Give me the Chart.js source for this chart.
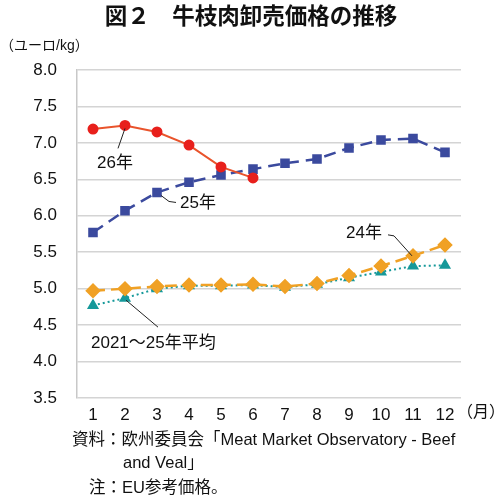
<!DOCTYPE html>
<html>
<head>
<meta charset="utf-8">
<script src="https://cdn.jsdelivr.net/npm/chart.js@4.4.1/dist/chart.umd.min.js"></script>
<style>
  html, body { margin: 0; padding: 0; background: #fff; }
  #wrap { width: 500px; height: 500px; position: relative; }
</style>
</head>
<body>
<div id="wrap"><canvas id="chart" width="500" height="500"></canvas></div>
<script>
// データ（ユーロ/kg）
const months = ['1', '2', '3', '4', '5', '6', '7', '8', '9', '10', '11', '12'];
const y26 = [7.19, 7.24, 7.15, 6.97, 6.67, 6.52, null, null, null, null, null, null];
const y25 = [5.77, 6.07, 6.32, 6.46, 6.56, 6.64, 6.72, 6.78, 6.93, 7.04, 7.06, 6.87];
const y24 = [4.97, 5.00, 5.03, 5.05, 5.05, 5.06, 5.03, 5.07, 5.18, 5.31, 5.45, 5.60];
const avg = [4.77, 4.87, 5.00, 5.04, 5.04, 5.05, 5.02, 5.06, 5.15, 5.23, 5.31, 5.32];
const yTicks = [3.5, 8.0];

const FONT = '"Liberation Sans", Arial, "Noto Sans CJK JP", sans-serif';
const NARROW = '"Liberation Sans Narrow", "Liberation Sans", "Noto Sans CJK JP", sans-serif';
const JP = '"Noto Sans CJK JP", "Liberation Sans", sans-serif';

// ラベルと引き出し線を描くプラグイン
const labelsPlugin = {
  id: 'labels',
  afterDraw(chart) {
    const ctx = chart.ctx;
    const x = chart.scales.x;
    const y = chart.scales.y;

    ctx.save();
    ctx.fillStyle = '#111';
    ctx.textBaseline = 'middle';

    // タイトル
    ctx.font = 'bold 22.5px ' + JP;
    ctx.textAlign = 'center';
    ctx.fillText('図２　牛枝肉卸売価格の推移', 251, 15);

    // 単位
    ctx.font = '14px ' + NARROW;
    ctx.textAlign = 'left';
    ctx.fillText('（ユーロ/kg）', 0, 46);

    // 月
    ctx.font = '16px ' + NARROW;
    ctx.fillText('（月）', 457, 413);

    // 注記
    ctx.font = '16.5px ' + FONT;
    ctx.fillText('資料：欧州委員会「Meat Market Observatory - Beef', 72, 440);
    ctx.fillText('and Veal」', 123, 463);
    ctx.fillText('注：EU参考価格。', 89, 488);

    // 系列ラベル
    const line = (x1, y1, x2, y2, x3, y3) => {
      ctx.beginPath();
      ctx.moveTo(x1, y1);
      ctx.lineTo(x2, y2);
      if (x3 !== undefined) ctx.lineTo(x3, y3);
      ctx.strokeStyle = '#222';
      ctx.lineWidth = 1;
      ctx.stroke();
    };

    ctx.font = '17px ' + NARROW;
    ctx.textAlign = 'left';

    let px = x.getPixelForValue(1), py = y.getPixelForValue(y26[1]);
    line(px, py + 3, px - 7, py + 23);
    ctx.fillText('26年', px - 28, py + 38);

    px = x.getPixelForValue(2); py = y.getPixelForValue(y25[2]);
    line(px + 4, py + 3, px + 12, py + 9, px + 19, py + 10);
    ctx.fillText('25年', px + 23, py + 11);

    px = x.getPixelForValue(10); py = y.getPixelForValue(y24[10]);
    line(px - 1, py, px - 19, py - 20, px - 25, py - 21);
    ctx.fillText('24年', px - 67, py - 23);

    px = x.getPixelForValue(1); py = y.getPixelForValue(avg[1]);
    line(px + 1, py + 2, px + 33, py + 29);
    ctx.fillText('2021～25年平均', px - 34, py + 45);

    ctx.restore();
  }
};

new Chart(document.getElementById('chart'), {
  type: 'line',
  data: {
    labels: months,
    datasets: [
      {
        label: '26年',
        data: y26,
        borderColor: '#e9542c',
        backgroundColor: '#e8201c',
        pointBackgroundColor: '#e8201c',
        pointBorderColor: '#e8201c',
        pointStyle: 'circle',
        pointRadius: 4.5,
        borderWidth: 2
      },
      {
        label: '25年',
        data: y25,
        borderColor: '#3b4a9e',
        backgroundColor: '#3b4a9e',
        pointBackgroundColor: '#3b4a9e',
        pointBorderColor: '#3b4a9e',
        borderDash: [12, 7],
        pointStyle: 'rect',
        pointRadius: 5,
        borderWidth: 2.5
      },
      {
        label: '24年',
        data: y24,
        borderColor: '#f0a125',
        backgroundColor: '#f0a125',
        pointBackgroundColor: '#f0a125',
        pointBorderColor: '#f0a125',
        borderDash: [12, 6],
        pointStyle: 'rectRot',
        pointRadius: 6,
        borderWidth: 2.5
      },
      {
        label: '2021～25年平均',
        data: avg,
        borderColor: '#16999a',
        backgroundColor: '#16999a',
        pointBackgroundColor: '#16999a',
        pointBorderColor: '#16999a',
        borderDash: [2, 3],
        pointStyle: 'triangle',
        pointRadius: 5,
        borderWidth: 2
      }
    ]
  },
  options: {
    responsive: false,
    animation: false,
    events: [],
    layout: { padding: { top: 70, left: 0, right: 39, bottom: 72 } },
    plugins: {
      legend: { display: false },
      tooltip: { enabled: false }
    },
    scales: {
      x: {
        offset: true,
        grid: { display: false, drawTicks: false },
        border: { display: false },
        ticks: { color: '#111', font: { family: NARROW, size: 17 }, padding: 7, maxRotation: 0 },
        afterFit(s) { s.height = 30; }
      },
      y: {
        min: yTicks[0],
        max: yTicks[1],
        grid: { color: '#d4d4d4', lineWidth: 1.5, drawTicks: false },
        border: { display: true, color: '#c8c8c8', width: 1.5 },
        ticks: {
          stepSize: 0.5,
          color: '#111',
          font: { family: NARROW, size: 17 },
          padding: 20,
          callback: v => v.toFixed(1)
        },
        afterFit(s) { s.width = 77; }
      }
    }
  },
  plugins: [labelsPlugin]
});
</script>
</body>
</html>
